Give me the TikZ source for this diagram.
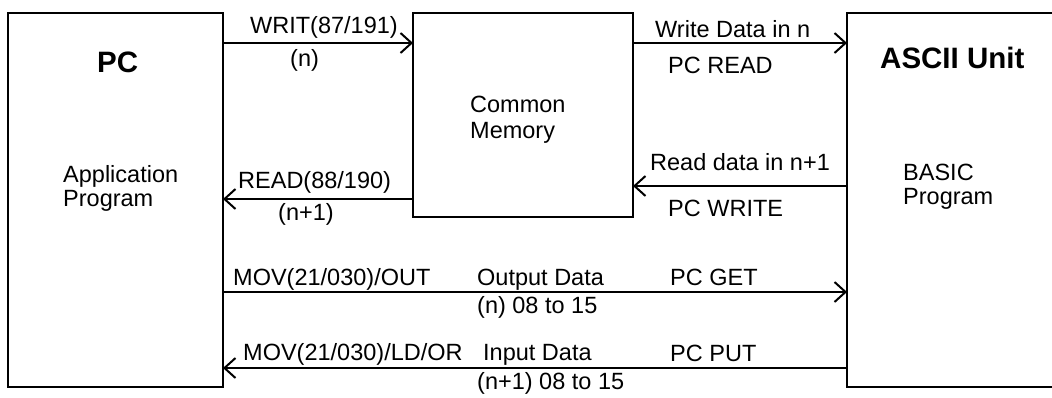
\documentclass[tikz,border=0pt]{standalone}
\usepackage{fontspec}
\setmainfont{Liberation Sans}
\usetikzlibrary{arrows.meta}
\begin{document}
\begin{tikzpicture}[x=1pt,y=-1pt,
  box/.style={draw, line width=2pt, rectangle, inner sep=0pt, outer sep=0pt},
  openbox/.style={draw=none, rectangle, inner sep=0pt, outer sep=0pt},
  arr/.style={line width=2pt, -{Straight Barb[length=11pt,width=20pt,line width=2pt]}},
  lbl/.style={inner sep=0pt, anchor=base west, font=\fontsize{23.5}{26}\selectfont},
  ttl/.style={inner sep=0pt, anchor=base west, font=\fontsize{29.5}{32}\selectfont\bfseries}]
\useasboundingbox (0,0) rectangle (1052,397);
% boxes
\node[box, minimum width=215pt, minimum height=374pt] (pc) at (115.5,200) {};
\node[box, minimum width=220pt, minimum height=204pt] (mem) at (523,115) {};
\node[openbox, minimum width=205pt, minimum height=374pt] (asc) at (949.5,200) {};
\draw[line width=2pt] (asc.north east) -- (asc.north west) -- (asc.south west) -- (asc.south east);
% row levels
\coordinate (r1) at (0,43);
\coordinate (r2) at (0,199);
\coordinate (r3) at (0,186);
\coordinate (r4) at (0,292);
\coordinate (r5) at (0,368);
% connectors
\draw[arr] (pc.east |- r1) -- (mem.west |- r1);
\draw[arr] (mem.west |- r2) -- (pc.east |- r2);
\draw[arr] (mem.east |- r1) -- (asc.west |- r1);
\draw[arr] (asc.west |- r3) -- (mem.east |- r3);
\draw[arr] (pc.east |- r4) -- (asc.west |- r4);
\draw[arr] (asc.west |- r5) -- (pc.east |- r5);
% titles
\node[ttl] (pct) at (97,72) {PC};
\node[ttl] (asct) at (880,68) {ASCII Unit};
\node[lbl] (app1) at (63,182) {Application};
\node[lbl] (app2) at (63,206) {Program};
\node[lbl] (mem1) at (470,112) {Common};
\node[lbl] (mem2) at (470,138) {Memory};
\node[lbl] (bas1) at (903,180) {BASIC};
\node[lbl] (bas2) at (903,204) {Program};
% connector labels
\node[lbl] (l1) at (250,33) {WRIT(87/191)};
\node[lbl] (l2) at (290,66) {(n)};
\node[lbl] (l3) at (238,188) {READ(88/190)};
\node[lbl] (l4) at (278,220) {(n+1)};
\node[lbl] (l5) at (655,37) {Write Data in n};
\node[lbl] (l6) at (668,73) {PC READ};
\node[lbl] (l7) at (650,170) {Read data in n+1};
\node[lbl] (l8) at (668,216) {PC WRITE};
\node[lbl] (l9) at (233,285) {MOV(21/030)/OUT};
\node[lbl] (l10) at (477,285) {Output Data};
\node[lbl] (l11) at (670,285) {PC GET};
\node[lbl] (l12) at (477,313) {(n) 08 to 15};
\node[lbl] (l13) at (243,360) {MOV(21/030)/LD/OR};
\node[lbl] (l14) at (483,360) {Input Data};
\node[lbl] (l15) at (670,361) {PC PUT};
\node[lbl] (l16) at (477,389) {(n+1) 08 to 15};
\end{tikzpicture}
\end{document}
